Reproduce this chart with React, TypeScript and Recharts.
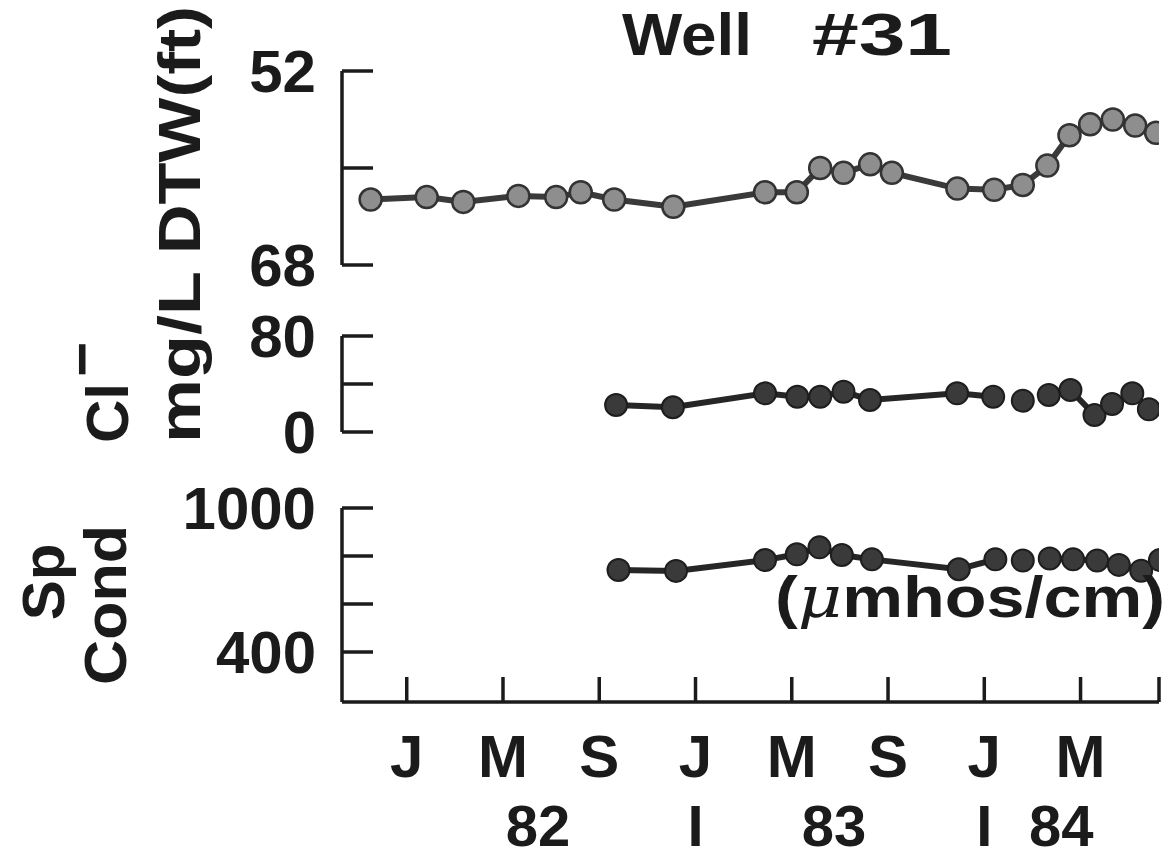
import { LineChart, Line, XAxis, YAxis } from "recharts";

// x is months since January 1982
const monthMin = -2.69;
const monthMax = 31.26;

const dtwMonths = [-1.5, 0.83, 2.35, 4.64, 6.21, 7.23, 8.62, 11.08, 14.89, 16.21, 17.18, 18.15, 19.26, 20.16, 22.88, 24.41, 25.6, 26.62, 27.54, 28.4, 29.34, 30.27, 31.14];
const dtwFeet = [62.6, 62.4, 62.8, 62.3, 62.4, 62.0, 62.6, 63.2, 62.0, 62.0, 60.0, 60.4, 59.7, 60.4, 61.7, 61.8, 61.4, 59.8, 57.3, 56.4, 56.0, 56.5, 57.1];

const clMonths = [8.7, 11.06, 14.89, 16.23, 17.18, 18.15, 19.25, 22.87, 24.37, 25.6, 26.68, 27.58, 28.58, 29.31, 30.15, 30.84];
const chloride = [22.5, 20.6, 32.2, 29.4, 29.4, 33.6, 26.7, 32.2, 29.4, 26.1, 30.8, 35.0, 14.2, 23.3, 32.2, 18.9];

const spMonths = [8.8, 11.19, 14.89, 16.21, 17.15, 18.08, 19.33, 22.94, 24.46, 25.6, 26.72, 27.69, 28.69, 29.59, 30.52, 31.3];
const spCond = [742, 738, 783, 807, 836, 804, 786, 745, 786, 781, 790, 786, 781, 763, 739, 783];

// sample indexes where the plotted line starts again
const chemSegmentStarts = [9, 10];

const dtwTicks = [52, 60, 68];
const dtwTickLabels = ["52", "", "68"];
const clTicks = [0, 40, 80];
const clTickLabels = ["0", "", "80"];
const spTicks = [400, 600, 800, 1000];
const spTickLabels = ["400", "", "", "1000"];

const monthTicks = [0, 4, 8, 12, 16, 20, 24, 28, monthMax];
const monthTickLabels = ["J", "M", "S", "J", "M", "S", "J", "M", ""];
const yearTicks = [5.46, 12, 17.75, 24, 27.2];
const yearTickLabels = ["82", "I", "83", "I", "84"];

const INK = "#1b1b1b";
const FONT = "'Liberation Sans', Arial, Helvetica, sans-serif";
const TICK_MARGIN = 26;
const W = 1167;

const buildSeries = (xs: number[], ys: number[]) => {
  const rows: { m: number; v: number | null }[] = [];
  xs.forEach((m, i) => {
    if (chemSegmentStarts.includes(i)) rows.push({ m: (xs[i - 1] + m) / 2, v: null });
    rows.push({ m, v: ys[i] });
  });
  return rows;
};

const dtwData = dtwMonths.map((m, i) => ({ m, v: dtwFeet[i] }));
const clData = buildSeries(clMonths, chloride);
const spData = buildSeries(spMonths, spCond);

const makeYTick = (ticks: number[], labels: string[]) => (props: any) => {
  const { x, y, payload } = props;
  const axisX = x + TICK_MARGIN;
  const label = labels[ticks.indexOf(payload.value)] || "";
  return (
    <g>
      <line x1={axisX} x2={axisX + 31} y1={y} y2={y} stroke={INK} strokeWidth={3.5} />
      {label && (
        <text x={x} y={y + 21} textAnchor="end" fontSize={60} fontWeight="bold" fontFamily={FONT} fill={INK}>
          {label}
        </text>
      )}
    </g>
  );
};

const MonthTick = (props: any) => {
  const { x, y, index } = props;
  const axisY = y - TICK_MARGIN;
  return (
    <g>
      <line x1={x} x2={x} y1={axisY} y2={axisY - 25} stroke={INK} strokeWidth={3.5} />
      <text x={x} y={axisY + 75} textAnchor="middle" fontSize={60} fontWeight="bold" fontFamily={FONT} fill={INK}>
        {monthTickLabels[index]}
      </text>
    </g>
  );
};

const YearTick = (props: any) => {
  const { x, y, index } = props;
  const axisY = y - TICK_MARGIN;
  return (
    <text x={x} y={axisY + 64} textAnchor="middle" fontSize={58} fontWeight="bold" fontFamily={FONT} fill={INK}>
      {yearTickLabels[index]}
    </text>
  );
};

const axisLine = { stroke: INK, strokeWidth: 3.5 };
const lightDot = { r: 11, fill: "#8e8e8e", stroke: "#333", strokeWidth: 2.5 };
const darkDot = { r: 11, fill: "#3a3a3a", stroke: "#1e1e1e", strokeWidth: 2 };

const hiddenX = (
  <XAxis hide type="number" dataKey="m" domain={[monthMin, monthMax]} allowDataOverflow />
);

const bold = { fontFamily: FONT, fontWeight: "bold" as const, fill: INK };

export default function App() {
  return (
    <div style={{ position: "absolute", left: 0, top: 0, width: W, height: 858, background: "#fff", overflow: "hidden" }}>
      <div style={{ position: "absolute", left: 0, top: 0 }}>
        <LineChart width={W} height={300} data={dtwData} margin={{ top: 71, right: 8, bottom: 35, left: 242 }}>
          {hiddenX}
          <YAxis
            type="number"
            reversed
            domain={[52, 68]}
            ticks={dtwTicks}
            width={100}
            axisLine={axisLine}
            tickSize={0}
            tickMargin={TICK_MARGIN}
            tick={makeYTick(dtwTicks, dtwTickLabels)}
            interval={0}
          />
          <Line type="linear" dataKey="v" stroke="#3a3a3a" strokeWidth={6} dot={lightDot} isAnimationActive={false} />
        </LineChart>
      </div>
      <div style={{ position: "absolute", left: 0, top: 300 }}>
        <LineChart width={W} height={190} data={clData} margin={{ top: 36, right: 8, bottom: 58, left: 242 }}>
          {hiddenX}
          <YAxis
            type="number"
            domain={[0, 80]}
            ticks={clTicks}
            width={100}
            axisLine={axisLine}
            tickSize={0}
            tickMargin={TICK_MARGIN}
            tick={makeYTick(clTicks, clTickLabels)}
            interval={0}
          />
          <Line type="linear" dataKey="v" stroke="#262626" strokeWidth={6} dot={darkDot} isAnimationActive={false} />
        </LineChart>
      </div>
      <div style={{ position: "absolute", left: 0, top: 460 }}>
        <LineChart width={W} height={398} data={spData} margin={{ top: 48, right: 8, bottom: 6, left: 242 }}>
          <XAxis
            type="number"
            dataKey="m"
            domain={[monthMin, monthMax]}
            allowDataOverflow
            ticks={monthTicks}
            interval={0}
            height={80}
            axisLine={axisLine}
            tickSize={0}
            tickMargin={TICK_MARGIN}
            tick={MonthTick}
          />
          <XAxis
            xAxisId="yr"
            type="number"
            dataKey="m"
            domain={[monthMin, monthMax]}
            allowDataOverflow
            ticks={yearTicks}
            interval={0}
            height={70}
            axisLine={false}
            tickSize={0}
            tickMargin={TICK_MARGIN}
            tick={YearTick}
          />
          <YAxis
            type="number"
            domain={[191.7, 1000]}
            allowDataOverflow
            ticks={spTicks}
            width={100}
            axisLine={axisLine}
            tickSize={0}
            tickMargin={TICK_MARGIN}
            tick={makeYTick(spTicks, spTickLabels)}
            interval={0}
          />
          <Line type="linear" dataKey="v" stroke="#262626" strokeWidth={6} dot={darkDot} isAnimationActive={false} />
        </LineChart>
      </div>
      <svg width={W} height={858} style={{ position: "absolute", left: 0, top: 0, pointerEvents: "none" }}>
        <text x={622} y={55} fontSize={60} textLength={130} lengthAdjust="spacingAndGlyphs" {...bold}>Well</text>
        <text x={812} y={55} fontSize={60} textLength={140} lengthAdjust="spacingAndGlyphs" {...bold}>#31</text>
        <text x={200} y={130} transform="rotate(-90 200 130)" textAnchor="middle" fontSize={60} textLength={248} lengthAdjust="spacingAndGlyphs" {...bold}>DTW(ft)</text>
        <text x={200} y={357} transform="rotate(-90 200 357)" textAnchor="middle" fontSize={60} textLength={172} lengthAdjust="spacingAndGlyphs" {...bold}>mg/L</text>
        <text x={128} y={443} transform="rotate(-90 128 443)" fontSize={60} {...bold}>
          Cl<tspan dx={6} dy={-26}>−</tspan>
        </text>
        <text x={64} y={582} transform="rotate(-90 64 582)" textAnchor="middle" fontSize={60} {...bold}>Sp</text>
        <text x={126} y={605} transform="rotate(-90 126 605)" textAnchor="middle" fontSize={60} textLength={160} lengthAdjust="spacingAndGlyphs" {...bold}>Cond</text>
        <text x={1165} y={617} textAnchor="end" fontSize={58} textLength={390} lengthAdjust="spacingAndGlyphs" {...bold}>
          (<tspan fontStyle="italic" fontWeight="normal" fontFamily="'DejaVu Serif', serif">μ</tspan>mhos/cm)
        </text>
      </svg>
    </div>
  );
}
